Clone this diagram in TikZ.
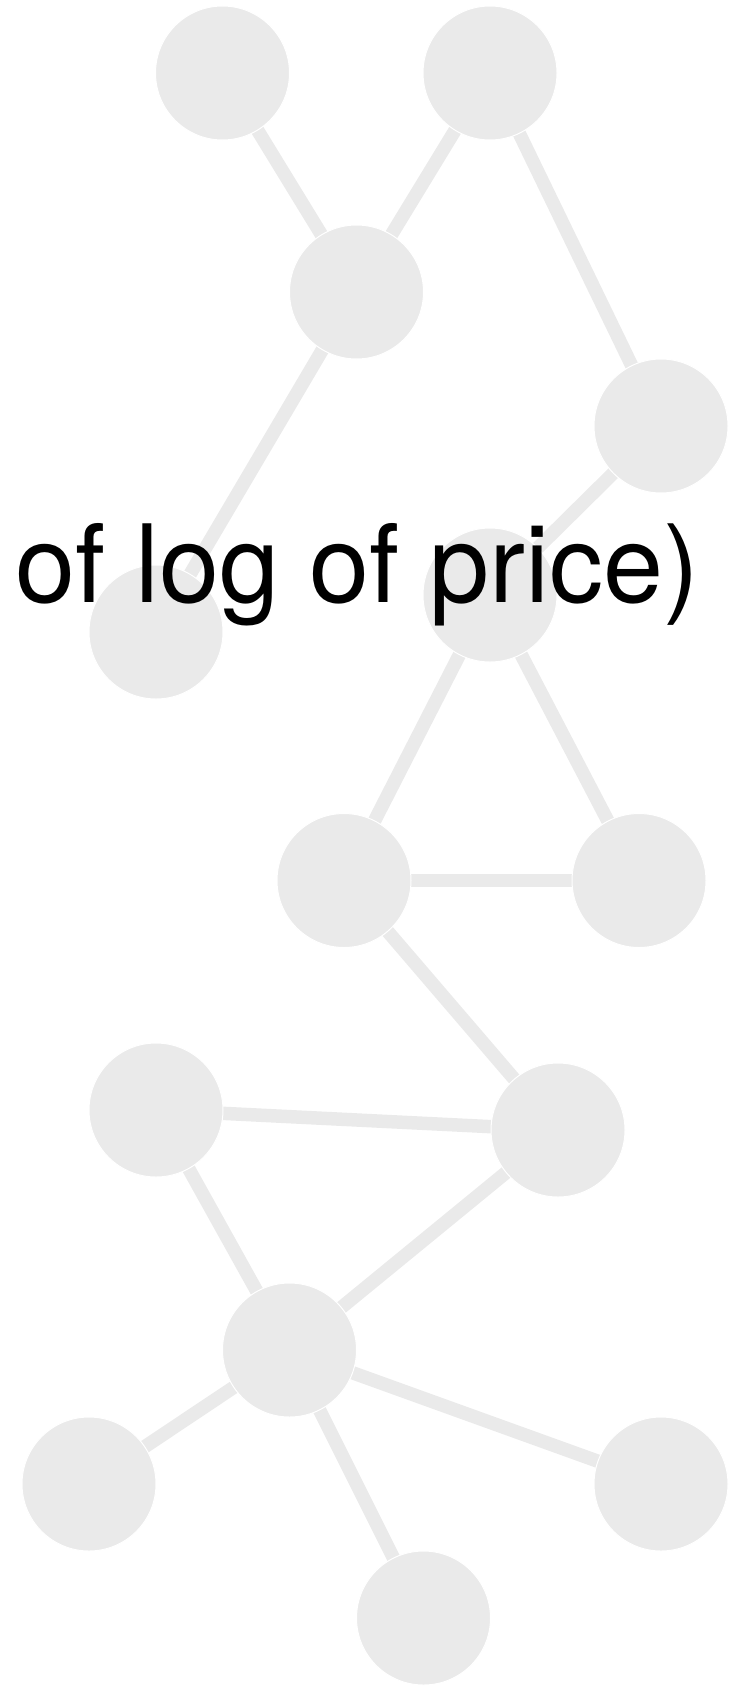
\documentclass[tikz,border=0pt]{standalone}
\usepackage{fontspec}
\setmainfont{TeX Gyre Heros}
\usetikzlibrary{backgrounds}
\definecolor{vertexgray}{HTML}{EAEAEA}
\tikzset{
  vertex/.style={circle, fill=vertexgray, draw=white, line width=1pt,
                 minimum size=134pt, inner sep=0pt},
  link/.style={draw=vertexgray, line width=13.5pt},
  caption/.style={anchor=base west, inner sep=0pt, text=black,
                  font=\fontsize{108}{120}\selectfont}
}
\begin{document}
\begin{tikzpicture}[x=1pt, y=-1pt]
  \useasboundingbox (0,0) rectangle (745,1686);
  % vertices
  \node[vertex] (A) at (222.5,73) {};
  \node[vertex] (B) at (490,73) {};
  \node[vertex] (C) at (356.5,292) {};
  \node[vertex] (D) at (661,426) {};
  \node[vertex] (E) at (156,632) {};
  \node[vertex] (F) at (490,595) {};
  \node[vertex] (G) at (344,880.5) {};
  \node[vertex] (H) at (639,880.5) {};
  \node[vertex] (I) at (558,1130) {};
  \node[vertex] (J) at (156,1110) {};
  \node[vertex] (K) at (289.5,1350) {};
  \node[vertex] (L) at (89,1484) {};
  \node[vertex] (M) at (661,1484) {};
  \node[vertex] (N) at (423.5,1618) {};
  % edges, centre to centre, kept behind the vertices
  \begin{scope}[on background layer]
    \path[link] (A.center) -- (C.center);
    \path[link] (B.center) -- (C.center);
    \path[link] (B.center) -- (D.center);
    \path[link] (C.center) -- (E.center);
    \path[link] (D.center) -- (F.center);
    \path[link] (F.center) -- (G.center);
    \path[link] (F.center) -- (H.center);
    \path[link] (G.center) -- (H.center);
    \path[link] (G.center) -- (I.center);
    \path[link] (J.center) -- (I.center);
    \path[link] (J.center) -- (K.center);
    \path[link] (I.center) -- (K.center);
    \path[link] (K.center) -- (L.center);
    \path[link] (K.center) -- (M.center);
    \path[link] (K.center) -- (N.center);
  \end{scope}
  % label over the graph
  \node[caption] (label) at (15,602) {of log of price)};
\end{tikzpicture}
\end{document}
